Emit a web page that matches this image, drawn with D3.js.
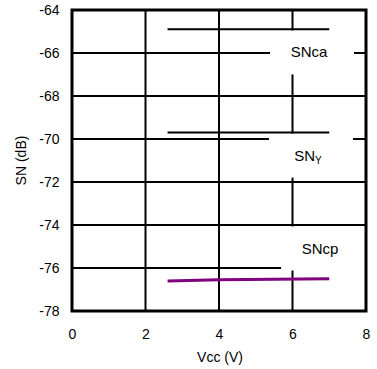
<!DOCTYPE html>
<html>
<head>
<meta charset="utf-8">
<script src="https://cdn.jsdelivr.net/npm/d3@7"></script>
<style>
  html, body { margin: 0; padding: 0; background: #fff; }
  svg { display: block; font-family: "Liberation Sans", Arial, sans-serif; }
</style>
</head>
<body>
<svg id="chart" width="377" height="369"></svg>
<script>
// Signal-to-noise versus supply voltage
const xTicks = [0, 2, 4, 6, 8];
const yTicks = [-64, -66, -68, -70, -72, -74, -76, -78];

const snCaX = [2.6, 7.0];
const snCaY = [-64.9, -64.9];
const snYX = [2.6, 7.0];
const snYY = [-69.7, -69.7];
const snCpX = [2.6, 4.0, 7.0];
const snCpY = [-76.6, -76.55, -76.5];

const labelNames = ["SNca", "SN", "SNcp"];
const labelSubs = ["", "Y", ""];
const labelX = [6.45, 6.42, 6.75];
const labelY = [-65.95, -70.75, -75.07];

const svg = d3.select("#chart");
const m = { left: 72, top: 10, right: 11, bottom: 58 };
const W = 377, H = 369;
const FONT = "Liberation Sans, Arial, sans-serif";

const x = d3.scaleLinear().domain([0, 8]).range([m.left, W - m.right]);
const y = d3.scaleLinear().domain([-78, -64]).range([H - m.bottom, m.top]);

// grid
const grid = svg.append("g");
grid.selectAll("line.v").data(xTicks.slice(1, -1)).join("line")
  .attr("x1", d => x(d)).attr("x2", d => x(d))
  .attr("y1", y(-64)).attr("y2", y(-78))
  .attr("stroke", "#000").attr("stroke-width", 2);
grid.selectAll("line.h").data(yTicks.slice(1, -1)).join("line")
  .attr("x1", x(0)).attr("x2", x(8))
  .attr("y1", d => y(d)).attr("y2", d => y(d))
  .attr("stroke", "#000").attr("stroke-width", 2);

// label backgrounds
const labels = labelNames.map((n, i) => ({ n, sub: labelSubs[i], x: labelX[i], y: labelY[i] }));
svg.append("g").selectAll("rect").data(labels).join("rect")
  .attr("x", d => x(d.x) - 39).attr("y", d => y(d.y) - 21.5)
  .attr("width", 84).attr("height", 44)
  .attr("fill", "#fff");

// series
const line = d3.line().x(d => x(d[0])).y(d => y(d[1]));
const series = [
  { xs: snCaX, ys: snCaY, color: "#000", w: 2 },
  { xs: snYX, ys: snYY, color: "#000", w: 2 },
  { xs: snCpX, ys: snCpY, color: "#800080", w: 3 }
];
svg.append("g").selectAll("path").data(series).join("path")
  .attr("d", s => line(s.xs.map((v, i) => [v, s.ys[i]])))
  .attr("fill", "none")
  .attr("stroke", s => s.color)
  .attr("stroke-width", s => s.w);

// labels
const lt = svg.append("g").selectAll("text").data(labels).join("text")
  .attr("x", d => x(d.x)).attr("y", d => y(d.y) + 5.5)
  .attr("text-anchor", "middle")
  .attr("font-size", 15).attr("fill", "#000");
lt.append("tspan").text(d => d.n);
lt.filter(d => d.sub).append("tspan")
  .attr("font-size", 10).attr("dy", 3).text(d => d.sub);

// frame
svg.append("rect")
  .attr("x", x(0)).attr("y", y(-64))
  .attr("width", x(8) - x(0)).attr("height", y(-78) - y(-64))
  .attr("fill", "none").attr("stroke", "#000").attr("stroke-width", 3);

// axes
const fmt = d => String(d);
const xAxis = svg.append("g")
  .attr("transform", `translate(0,${y(-78)})`)
  .call(d3.axisBottom(x).tickValues(xTicks).tickSize(0).tickPadding(18.5).tickFormat(fmt));
xAxis.select(".domain").remove();
xAxis.selectAll("text").attr("font-size", 14).attr("fill", "#000").attr("font-family", FONT);

const yAxis = svg.append("g")
  .attr("transform", `translate(${x(0)},0)`)
  .call(d3.axisLeft(y).tickValues(yTicks).tickSize(0).tickPadding(12.5).tickFormat(fmt));
yAxis.select(".domain").remove();
yAxis.selectAll("text").attr("font-size", 14).attr("fill", "#000").attr("font-family", FONT);

svg.append("text")
  .attr("x", 220).attr("y", 361.5)
  .attr("text-anchor", "middle").attr("font-size", 14)
  .text("Vcc (V)");

svg.append("text")
  .attr("transform", `translate(26,${(y(-64) + y(-78)) / 2}) rotate(-90)`)
  .attr("text-anchor", "middle").attr("font-size", 14)
  .text("SN (dB)");
</script>
</body>
</html>
